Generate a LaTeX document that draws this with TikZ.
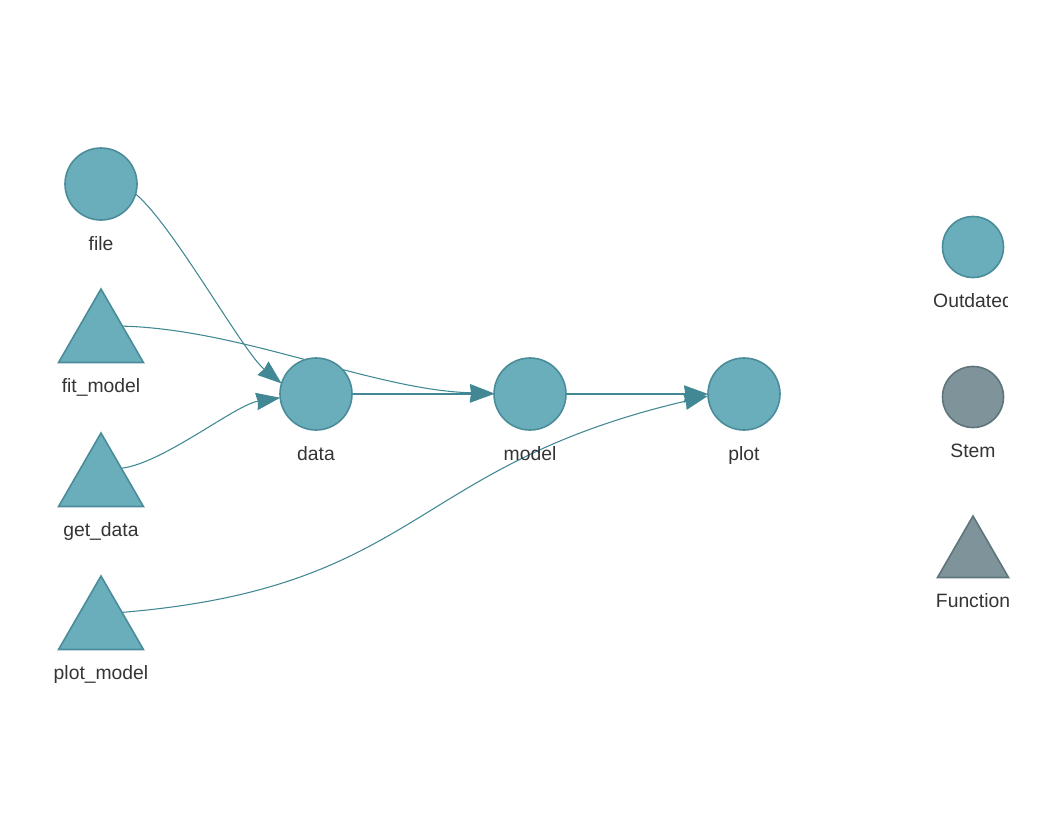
\documentclass[tikz,border=0pt]{standalone}
\usepackage{fontspec}
\setmainfont{Liberation Sans}
\usetikzlibrary{arrows.meta,shapes.geometric,backgrounds}
\definecolor{nodeteal}{HTML}{6AAEBC}
\definecolor{edgeteal}{HTML}{4A8C99}
\definecolor{arrowteal}{HTML}{418894}
\definecolor{stemgray}{HTML}{7E939A}
\definecolor{stemedge}{HTML}{5F757C}
\definecolor{labelgray}{HTML}{343434}

\begin{document}
\begin{tikzpicture}[x=0.75pt,y=-0.75pt,
    target/.style={circle,draw=edgeteal,fill=nodeteal,line width=1.2pt,minimum size=54pt,inner sep=0pt,outer sep=0pt},
    func/.style={regular polygon,regular polygon sides=3,draw=edgeteal,fill=nodeteal,line width=1.2pt,minimum size=73.5pt,inner sep=0pt,outer sep=0pt},
    tag/.style={label={[font=\fontsize{14.5}{17}\selectfont,text=labelgray,anchor=base,label distance=22.5pt]below:#1}},
    link/.style={draw=arrowteal,line width=0.8pt,-{Stealth[length=18pt,width=13pt,inset=1pt]}}]
        \useasboundingbox (0,0) rectangle (1038,814);
        \node[target,tag=file] (file) at (101,184) {};
        \node[func,tag=fit\_model] (fitmodel) at (101,338) {};
        \node[func,tag=get\_data] (getdata) at (101,482) {};
        \node[func,tag=plot\_model] (plotmodel) at (101,625) {};
        \node[target,tag=data] (data) at (316,394) {};
        \node[target,tag=model] (model) at (530,394) {};
        \node[target,tag=plot] (plot) at (744,394) {};
        \begin{scope}
          \clip (0,0) rectangle (1007,814);
          \node[target,minimum size=45.75pt,tag=Outdated] (legoutdated) at (973,247) {};
        \end{scope}
        \node[target,draw=stemedge,fill=stemgray,minimum size=45.75pt,tag=Stem] (legstem) at (973,397) {};
        \node[func,draw=stemedge,fill=stemgray,minimum size=61.5pt,tag=Function] (legfunction) at (973,557) {};
        \begin{scope}[on background layer]
          \draw[link] (file.-16) .. controls +(38,32) and +(-39,-32) .. (data.163);
          \draw[link] (fitmodel.29) .. controls +(120,3) and +(-120,-3) .. (model.179);
          \draw[link] (getdata.34) .. controls +(42,-5) and +(-45,7) .. (data.186);
          \draw[link] (plotmodel.31) .. controls +(300,-25) and +(-300,70) .. (plot.183);
          \draw[link] (data) -- (model);
          \draw[link] (model) -- (plot);
        \end{scope}
      \end{tikzpicture}
\end{document}
